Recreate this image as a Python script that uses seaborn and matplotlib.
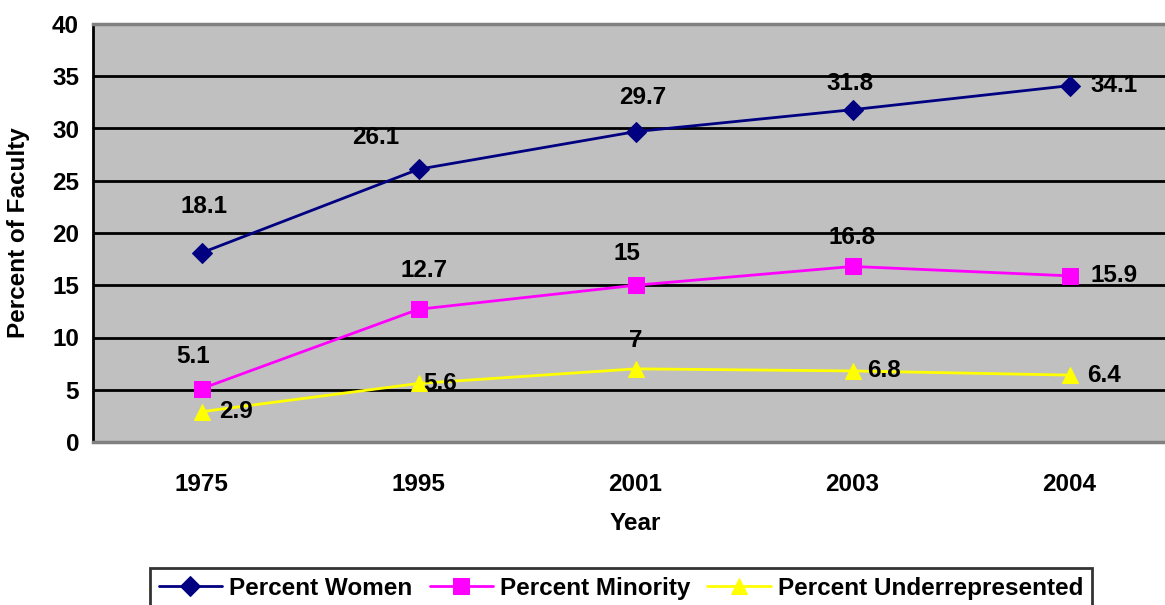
import matplotlib
matplotlib.use("Agg")
import matplotlib.pyplot as plt
import seaborn as sns
import pandas as pd
import numpy as np

years = ["1975", "1995", "2001", "2003", "2004"]
women = [18.1, 26.1, 29.7, 31.8, 34.1]
minority = [5.1, 12.7, 15, 16.8, 15.9]
underrep = [2.9, 5.6, 7, 6.8, 6.4]
series_names = ["Percent Women", "Percent Minority", "Percent Underrepresented"]

sns.set_theme(style="white")
plt.rcParams["font.family"] = ["Liberation Sans", "DejaVu Sans"]
plt.rcParams["font.weight"] = "bold"
for k in ["text.color", "axes.labelcolor", "xtick.color", "ytick.color"]:
    plt.rcParams[k] = "black"

FS = 17.5

fig = plt.figure(figsize=(11.65, 6.05), dpi=100)
ax = fig.add_axes([93/1165, 1-442/605, (1178-93)/1165, (442-24)/605])
ax.set_facecolor("#C0C0C0")

pos = np.arange(len(years))
styles = [
    (women, "#000080", "D", 10),
    (minority, "#FF00FF", "s", 11),
    (underrep, "#FFFF00", "^", 12),
]
for (vals, col, mk, ms), name in zip(styles, series_names):
    df = pd.DataFrame({"x": pos, "y": vals})
    sns.lineplot(data=df, x="x", y="y", ax=ax, color=col, marker=mk,
                 markersize=ms, markeredgecolor=col, linewidth=2,
                 label=name, zorder=3)

# label offsets (pixels)
offs_w = [(3, 46), (-43, 32), (7, 34), (-2, 26), (45, 0)]
offs_m = [(-8, 32), (6, 39), (-9, 32), (0, 29), (45, 0)]
offs_u = [(34, 0), (22, 0), (0, 28), (32, 0), (35, 0)]
for vals, offs in [(women, offs_w), (minority, offs_m), (underrep, offs_u)]:
    for i, (v, (dx, dy)) in enumerate(zip(vals, offs)):
        ax.annotate(f"{v:g}", (pos[i], v), xytext=(dx*0.72, dy*0.72),
                    textcoords="offset points", ha="center", va="center",
                    fontsize=FS, fontweight="bold", color="black", zorder=4)

ax.set_xlim(-0.5, 4.5)
ax.set_ylim(0, 40)
ax.set_yticks(range(0, 41, 5))
ax.set_xticks(pos)
ax.set_xticklabels(years)
ax.set_xticks(np.arange(-0.5, 4.0, 1.0), minor=True)
ax.tick_params(axis="x", which="major", length=0, pad=22, labelsize=FS)
ax.tick_params(axis="x", which="minor", length=7, width=1.5, color="black", direction="out")
ax.tick_params(axis="y", length=6, width=1.5, color="black", direction="out", labelsize=FS, pad=4)
for lab in ax.get_xticklabels() + ax.get_yticklabels():
    lab.set_fontweight("bold")

ax.yaxis.grid(True, color="black", linewidth=2)
ax.xaxis.grid(False)
ax.set_axisbelow(True)

for s in ["top", "bottom"]:
    ax.spines[s].set_color("#808080")
    ax.spines[s].set_linewidth(2.5)
ax.spines["left"].set_color("black")
ax.spines["left"].set_linewidth(2)
ax.spines["right"].set_visible(False)

ax.set_xlabel("Year", fontsize=FS, fontweight="bold", labelpad=12)
ax.set_ylabel("Percent of Faculty", fontsize=FS, fontweight="bold")
ax.yaxis.set_label_coords((19 - 93) / 1085, 0.5)
ax.yaxis.label.set_va("center")

leg = ax.legend(loc="upper center", bbox_to_anchor=(621/1165, 1-568/605),
                bbox_transform=fig.transFigure, ncol=3, frameon=True,
                fontsize=FS, handlelength=2.6, columnspacing=0.7,
                handletextpad=0.3, borderpad=0.35, borderaxespad=0,
                fancybox=False)
leg.get_frame().set_edgecolor("black")
leg.get_frame().set_linewidth(2)
leg.get_frame().set_facecolor("white")
for t in leg.get_texts():
    t.set_fontweight("bold")

fig.savefig("out.png", dpi=100)
